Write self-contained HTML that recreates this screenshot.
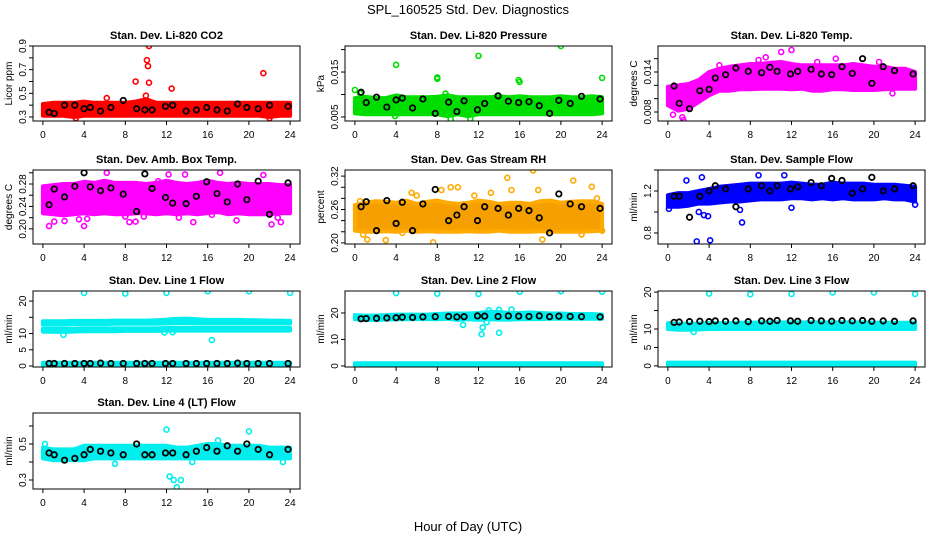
<!DOCTYPE html>
<html><head><meta charset="utf-8">
<style>
html,body{margin:0;padding:0;background:#fff;}
svg{display:block;font-family:"Liberation Sans",sans-serif;}
</style></head>
<body>
<svg id="chart" width="936" height="540" viewBox="0 0 936 540">
<text x="468" y="14" text-anchor="middle" font-size="13">SPL_160525  Std. Dev. Diagnostics</text>
<text x="468" y="531" text-anchor="middle" font-size="13">Hour of Day (UTC)</text>
</svg>
<script>
const xTicks = [0,4,8,12,16,20,24];
const bandHours = [0,1,2,3,4,5,6,7,8,9,10,11,12,13,14,15,16,17,18,19,20,21,22,23,24];
const blackHours = [0.6,1.1,2.1,3.1,4.0,4.6,5.6,6.6,7.8,9.1,9.9,10.6,11.9,12.6,13.9,14.9,15.9,16.9,17.9,18.9,19.8,20.9,22.0,23.8];

const co2Lo = [0.31,0.31,0.31,0.30,0.31,0.31,0.31,0.31,0.31,0.31,0.31,0.31,0.31,0.31,0.31,0.31,0.31,0.31,0.31,0.31,0.31,0.31,0.30,0.31,0.31];
const co2Hi = [0.41,0.42,0.42,0.42,0.43,0.42,0.42,0.42,0.42,0.43,0.45,0.42,0.42,0.42,0.42,0.42,0.42,0.42,0.42,0.42,0.42,0.42,0.42,0.42,0.42];
const co2Out = [[6.2,0.46],[9.0,0.60],[10.0,0.48],[10.1,0.78],[10.2,0.73],[10.3,0.90],[10.3,0.59],[12.5,0.54],[21.4,0.67],[3.2,0.29],[22.0,0.29]];
const co2Black = [0.34,0.33,0.40,0.40,0.37,0.38,0.35,0.38,0.44,0.37,0.36,0.36,0.39,0.40,0.35,0.36,0.38,0.36,0.35,0.41,0.38,0.37,0.40,0.39];

const presLo = [0.0058,0.0056,0.0056,0.0056,0.0056,0.0056,0.0056,0.0056,0.0056,0.0052,0.0056,0.0052,0.0056,0.0056,0.0056,0.0056,0.0056,0.0056,0.0056,0.0056,0.0056,0.0056,0.0056,0.0056,0.0058];
const presHi = [0.0092,0.0095,0.0092,0.0092,0.0098,0.0094,0.0094,0.0094,0.0095,0.0098,0.0094,0.0094,0.0094,0.0094,0.0096,0.0094,0.0096,0.0094,0.0094,0.0094,0.0096,0.0094,0.0094,0.0096,0.0094];
const presOut = [[0.0,0.0110],[0.5,0.0103],[4.0,0.0166],[8.0,0.0138],[8.0,0.0135],[12.0,0.0186],[15.9,0.0132],[16.0,0.0128],[20.0,0.0208],[24.0,0.0137],[9.3,0.0045],[3.9,0.0052],[11.2,0.0046],[8.8,0.0102]];
const presBlack = [0.0105,0.0082,0.0094,0.0072,0.0088,0.0092,0.0070,0.0090,0.0058,0.0083,0.0062,0.0086,0.0066,0.0080,0.0097,0.0085,0.0082,0.0084,0.0075,0.0058,0.0087,0.0080,0.0096,0.0090];

const tempLo = [0.0090,0.0082,0.0085,0.0095,0.0105,0.0112,0.0112,0.0114,0.0114,0.0115,0.0115,0.0115,0.0114,0.0115,0.0112,0.0112,0.0114,0.0114,0.0113,0.0113,0.0113,0.0114,0.0115,0.0115,0.0115];
const tempHi = [0.0118,0.0120,0.0122,0.0128,0.0140,0.0145,0.0148,0.0150,0.0152,0.0152,0.0154,0.0155,0.0152,0.0150,0.0150,0.0150,0.0150,0.0150,0.0152,0.0150,0.0148,0.0148,0.0145,0.0145,0.0140];
const tempOut = [[1.5,0.0068],[1.4,0.0072],[0.5,0.0076],[11.0,0.0170],[12.0,0.0173],[9.5,0.0162],[8.8,0.0158],[16.3,0.0160],[20.5,0.0155],[5.0,0.0150],[14.5,0.0155],[21.8,0.0108]];
const tempBlack = [0.0119,0.0093,0.0085,0.0112,0.0114,0.0131,0.0136,0.0146,0.0141,0.0139,0.0147,0.0141,0.0137,0.0141,0.0144,0.0137,0.0136,0.0148,0.0138,0.0160,0.0123,0.0148,0.0142,0.0137];

const ambLo = [0.228,0.226,0.224,0.226,0.228,0.226,0.228,0.226,0.226,0.228,0.228,0.226,0.228,0.226,0.228,0.226,0.228,0.230,0.226,0.228,0.226,0.226,0.226,0.228,0.228];
const ambHi = [0.276,0.278,0.280,0.280,0.284,0.282,0.286,0.282,0.282,0.282,0.280,0.282,0.286,0.282,0.280,0.282,0.286,0.282,0.280,0.282,0.280,0.280,0.280,0.278,0.278];
const ambOut = [[0.6,0.205],[1.1,0.213],[2.1,0.214],[3.5,0.217],[4.3,0.218],[6.2,0.300],[8.0,0.222],[8.4,0.212],[9.0,0.213],[9.8,0.222],[11.2,0.285],[12.2,0.297],[13.2,0.220],[13.8,0.297],[14.6,0.212],[16.4,0.225],[17.2,0.300],[18.8,0.215],[21.4,0.296],[22.2,0.208],[22.8,0.220],[23.1,0.212],[4.0,0.205]];
const ambBlack = [0.243,0.271,0.257,0.276,0.300,0.275,0.268,0.273,0.262,0.231,0.298,0.272,0.256,0.246,0.245,0.258,0.284,0.263,0.248,0.280,0.252,0.285,0.226,0.282];

const rhLo = [0.222,0.220,0.220,0.221,0.220,0.222,0.220,0.221,0.220,0.220,0.220,0.221,0.220,0.220,0.222,0.220,0.220,0.220,0.221,0.220,0.220,0.220,0.220,0.221,0.222];
const rhHi = [0.268,0.272,0.275,0.274,0.272,0.276,0.270,0.274,0.276,0.272,0.270,0.272,0.276,0.274,0.270,0.272,0.272,0.270,0.275,0.276,0.272,0.274,0.275,0.275,0.270];
const rhOut = [[0.5,0.275],[0.8,0.215],[1.2,0.206],[4.6,0.218],[5.5,0.29],[7.6,0.201],[8.4,0.295],[9.3,0.300],[10.0,0.300],[11.6,0.285],[13.2,0.290],[14.8,0.317],[15.2,0.295],[17.3,0.330],[17.8,0.295],[18.2,0.206],[21.2,0.312],[22.0,0.215],[23.0,0.301],[23.5,0.280],[24.0,0.222],[3.0,0.205],[6.0,0.285]];
const rhBlack = [0.265,0.274,0.222,0.276,0.235,0.273,0.222,0.270,0.296,0.240,0.250,0.265,0.240,0.265,0.262,0.250,0.262,0.258,0.245,0.218,0.288,0.270,0.265,0.262];

const flowLo = [1.05,1.05,1.06,1.08,1.08,1.09,1.10,1.10,1.11,1.12,1.12,1.12,1.13,1.13,1.12,1.13,1.12,1.13,1.12,1.12,1.12,1.13,1.12,1.12,1.10];
const flowHi = [1.16,1.18,1.18,1.20,1.22,1.24,1.25,1.26,1.27,1.27,1.27,1.27,1.28,1.27,1.26,1.26,1.28,1.27,1.27,1.27,1.26,1.26,1.26,1.25,1.24];
const flowOut = [[0.1,1.03],[2.8,0.72],[4.1,0.73],[7.2,0.90],[8.2,1.45],[3.0,1.00],[3.5,0.97],[3.9,0.96],[7.0,1.02],[8.8,1.35],[11.3,1.35],[12.0,1.04],[1.8,1.30],[3.3,1.33],[24.0,1.07]];
const flowBlack = [1.15,1.15,0.95,1.15,1.20,1.25,1.22,1.05,1.22,1.25,1.20,1.25,1.22,1.24,1.28,1.25,1.32,1.30,1.18,1.22,1.33,1.20,1.22,1.25];

const l1LoA = [10.6,10.5,10.5,10.6,10.7,10.7,10.7,10.7,10.8,10.8,10.8,10.8,10.9,10.9,10.9,10.9,10.9,10.9,10.9,10.9,10.9,10.9,10.9,10.9,10.9];
const l1HiA = [11.5,11.5,11.5,11.5,11.6,11.6,11.6,11.6,11.6,11.6,11.6,11.6,11.7,11.7,11.7,11.7,11.7,11.7,11.7,11.7,11.7,11.7,11.7,11.7,11.7];
const l1LoB = [12.8,12.8,12.8,12.9,12.9,12.9,12.9,13.0,13.0,13.0,13.0,13.0,13.1,13.2,13.2,13.1,13.1,13.1,13.1,13.1,13.1,13.1,13.1,13.1,13.1];
const l1HiB = [13.8,13.8,13.8,13.9,13.9,13.9,13.9,14.0,14.0,14.0,14.0,14.1,14.3,14.5,14.6,14.4,14.2,14.2,14.2,14.2,14.1,14.1,14.0,14.0,13.9];
const l1LoC = [0.2,0.2,0.2,0.2,0.2,0.2,0.2,0.2,0.2,0.2,0.2,0.2,0.2,0.2,0.2,0.2,0.2,0.2,0.2,0.2,0.2,0.2,0.2,0.2,0.2];
const l1HiC = [1.0,1.0,1.0,1.0,1.0,1.0,1.0,1.0,1.0,1.0,1.0,1.0,1.0,1.0,1.0,1.0,1.0,1.0,1.0,1.0,1.0,1.0,1.0,1.0,1.0];
const l1Out = [[4.0,22.5],[8.0,22.3],[12.0,22.5],[16.0,23.0],[20.0,23.0],[24.0,22.5],[16.4,8.0],[2.0,9.6],[12.6,10.4],[11.8,10.3]];
const l1Black = [0.8,0.8,0.8,0.8,0.8,0.8,0.9,0.8,0.8,0.8,0.8,0.8,0.8,0.8,0.8,0.8,0.8,0.8,0.8,0.9,0.8,0.8,0.8,0.8];

const l2LoA = [17.6,17.4,17.4,17.5,17.6,17.6,17.7,17.7,17.6,17.8,17.4,17.6,17.4,17.6,17.5,17.5,17.6,17.7,17.7,17.8,17.8,17.8,17.8,17.8,17.8];
const l2HiA = [19.2,19.0,19.0,19.2,19.4,19.4,19.4,19.4,19.6,19.8,19.8,19.8,20.0,20.4,20.4,20.0,20.0,20.2,20.0,19.8,19.8,19.6,19.6,19.6,19.4];
const l2LoC = [0.1,0.1,0.1,0.1,0.1,0.1,0.1,0.1,0.1,0.1,0.1,0.1,0.1,0.1,0.1,0.1,0.1,0.1,0.1,0.1,0.1,0.1,0.1,0.1,0.1];
const l2HiC = [1.0,1.0,1.0,1.0,1.0,1.0,1.0,1.0,1.0,1.0,1.0,1.0,1.0,1.0,1.0,1.0,1.0,1.0,1.0,1.0,1.0,1.0,1.0,1.0,1.0];
const l2Out = [[4.0,27.5],[8.0,27.3],[12.0,27.2],[16.0,28.0],[20.0,28.2],[24.0,28.0],[12.3,12.0],[12.4,14.5],[12.8,16.5],[14.0,12.5],[13.0,21.0],[14.0,21.2],[15.2,21.3],[10.5,15.5]];
const l2Black = [17.8,17.9,18.0,18.1,18.2,18.4,18.3,18.5,18.6,18.7,18.5,18.6,18.9,18.8,18.7,18.9,18.8,18.7,18.9,18.6,18.8,18.7,18.6,18.5];

const l3LoA = [10.0,9.8,9.8,9.9,10.0,10.0,10.0,10.0,10.0,10.0,10.0,10.0,10.0,10.0,10.0,10.0,10.0,10.0,10.0,10.0,10.0,10.0,10.0,10.0,10.0];
const l3HiA = [11.6,11.4,11.4,11.5,11.6,11.6,11.6,11.7,11.7,11.8,11.8,11.8,11.8,11.8,11.8,11.8,11.8,11.8,11.8,11.8,11.7,11.7,11.7,11.7,11.7];
const l3LoC = [0.1,0.1,0.1,0.1,0.1,0.1,0.1,0.1,0.1,0.1,0.1,0.1,0.1,0.1,0.1,0.1,0.1,0.1,0.1,0.1,0.1,0.1,0.1,0.1,0.1];
const l3HiC = [0.9,0.9,0.9,0.9,0.9,0.9,0.9,0.9,0.9,0.9,0.9,0.9,0.9,0.9,0.9,0.9,0.9,0.9,0.9,0.9,0.9,0.9,0.9,0.9,0.9];
const l3Out = [[4.0,19.6],[8.0,19.4],[12.0,19.5],[16.0,19.9],[20.0,19.9],[24.0,19.5],[2.5,9.2]];
const l3Black = [11.8,11.9,12.0,12.1,12.0,12.2,12.1,12.2,12.0,12.2,12.1,12.3,12.2,12.1,12.3,12.2,12.1,12.3,12.2,12.3,12.1,12.2,12.1,12.2];

const l4Lo = [0.42,0.41,0.41,0.41,0.41,0.42,0.42,0.42,0.42,0.42,0.42,0.42,0.42,0.42,0.42,0.42,0.42,0.42,0.42,0.42,0.42,0.42,0.42,0.42,0.42];
const l4Hi = [0.48,0.47,0.47,0.47,0.49,0.49,0.49,0.49,0.49,0.49,0.49,0.49,0.49,0.48,0.48,0.49,0.50,0.50,0.49,0.49,0.49,0.49,0.48,0.48,0.48];
const l4Out = [[4.0,0.73],[12.0,0.58],[12.3,0.32],[12.7,0.30],[13.0,0.26],[13.4,0.30],[20.0,0.57],[7.0,0.39],[14.5,0.40],[0.2,0.50],[17.0,0.52],[23.3,0.40]];
const l4Black = [0.45,0.44,0.41,0.42,0.44,0.47,0.46,0.45,0.44,0.50,0.44,0.44,0.45,0.45,0.44,0.46,0.48,0.46,0.49,0.46,0.50,0.47,0.44,0.47];

const panels = [
 {name:'co2',col:0,row:0,title:'Stan. Dev. Li-820 CO2',ylab:'Licor ppm',y0:0.266,y1:0.9,ticks:[0.3,0.4,0.5,0.6,0.7,0.8,0.9],labels:['0.3','','0.5','','0.7','','0.9'],color:'#ff0000',bands:[[co2Lo,co2Hi]],out:co2Out,black:co2Black},
 {name:'pressure',col:1,row:0,title:'Stan. Dev. Li-820 Pressure',ylab:'kPa',y0:0.0041,y1:0.0208,ticks:[0.005,0.010,0.015,0.020],labels:['0.005','','0.015',''],color:'#00dd00',bands:[[presLo,presHi]],out:presOut,black:presBlack},
 {name:'temp',col:2,row:0,title:'Stan. Dev. Li-820 Temp.',ylab:'degrees C',y0:0.00665,y1:0.0179,ticks:[0.008,0.010,0.012,0.014,0.016],labels:['0.008','','','0.014',''],color:'#ff00ff',bands:[[tempLo,tempHi]],out:tempOut,black:tempBlack},
 {name:'amb-box',col:0,row:1,title:'Stan. Dev. Amb. Box Temp.',ylab:'degrees C',y0:0.173,y1:0.305,ticks:[0.20,0.22,0.24,0.26,0.28,0.30],labels:['0.20','','0.24','','0.28',''],color:'#ff00ff',bands:[[ambLo,ambHi]],out:ambOut,black:ambBlack},
 {name:'gas-rh',col:1,row:1,title:'Stan. Dev. Gas Stream RH',ylab:'percent',y0:0.198,y1:0.331,ticks:[0.20,0.22,0.24,0.26,0.28,0.30,0.32],labels:['0.20','','','0.26','','','0.32'],color:'#ffaa00',bands:[[rhLo,rhHi]],out:rhOut,black:rhBlack},
 {name:'sample-flow',col:2,row:1,title:'Stan. Dev. Sample Flow',ylab:'ml/min',y0:0.695,y1:1.40,ticks:[0.8,1.0,1.2,1.4],labels:['0.8','','1.2',''],color:'#0000ff',bands:[[flowLo,flowHi]],out:flowOut,black:flowBlack},
 {name:'line1',col:0,row:2,title:'Stan. Dev. Line 1 Flow',ylab:'ml/min',y0:-0.3,y1:23.1,ticks:[0,5,10,15,20],labels:['0','5','10','','20'],color:'#00eeee',bands:[[l1LoA,l1HiA],[l1LoB,l1HiB],[l1LoC,l1HiC]],out:l1Out,black:l1Black},
 {name:'line2',col:1,row:2,title:'Stan. Dev. Line 2 Flow',ylab:'ml/min',y0:-0.4,y1:28.3,ticks:[0,10,20],labels:['0','10','20'],color:'#00eeee',bands:[[l2LoA,l2HiA],[l2LoC,l2HiC]],out:l2Out,black:l2Black},
 {name:'line3',col:2,row:2,title:'Stan. Dev. Line 3 Flow',ylab:'ml/min',y0:-0.3,y1:20.3,ticks:[0,5,10,15,20],labels:['0','5','10','','20'],color:'#00eeee',bands:[[l3LoA,l3HiA],[l3LoC,l3HiC]],out:l3Out,black:l3Black},
 {name:'line4',col:0,row:3,title:'Stan. Dev. Line 4 (LT) Flow',ylab:'ml/min',y0:0.25,y1:0.672,ticks:[0.3,0.4,0.5,0.6],labels:['0.3','','0.5',''],color:'#00eeee',bands:[[l4Lo,l4Hi]],out:l4Out,black:l4Black}
];

const NS='http://www.w3.org/2000/svg';
const svg=document.getElementById('chart');
const colLeft=[33,345,658], boxW=267;
const rowTop=[46,170,291,413], rowBot=[121,244,367,489];
function mk(tag,attrs,parent){const e=document.createElementNS(NS,tag);for(const k in attrs)e.setAttribute(k,attrs[k]);parent.appendChild(e);return e;}

panels.forEach(p=>{
  const L=colLeft[p.col], R=L+boxW, T=rowTop[p.row], B=rowBot[p.row];
  const xs=v=>L+(v+0.96)/25.92*boxW;
  const ys=v=>B-(v-p.y0)/(p.y1-p.y0)*(B-T);
  const g=mk('g',{},svg);
  
  
  const clip=mk('clipPath',{id:'clip-'+p.name},g);
  mk('rect',{x:L,y:T,width:boxW,height:B-T},clip);
  const plot=mk('g',{'clip-path':'url(#clip-'+p.name+')'},g);
  
  
  p.bands.forEach((b,bi)=>{
    let d='';
    bandHours.forEach((h,i)=>{d+=(i?'L':'M')+xs(h).toFixed(1)+','+ys(b[1][i]).toFixed(1);});
    for(let i=bandHours.length-1;i>=0;i--){d+='L'+xs(bandHours[i]).toFixed(1)+','+ys(b[0][i]).toFixed(1);}
    d+='Z';
    const path=mk('path',{d:d,fill:p.color,stroke:p.color,'stroke-width':4,'stroke-linejoin':'round'},plot);
    
    
    if(p.name==='gas-rh'){path.setAttribute('fill','#f5a000');}
  });
  p.out.forEach(o=>{
    const c=mk('circle',{cx:xs(o[0]),cy:ys(o[1]),r:2.5,fill:'none',stroke:p.color,'stroke-width':1.6},plot);
    
    
  });
  p.black.forEach((v,i)=>{
    const c=mk('circle',{cx:xs(blackHours[i]),cy:ys(v),r:2.7,fill:'none',stroke:'#000','stroke-width':1.8},plot);
    
    
  });
  const box=mk('rect',{x:L,y:T,width:boxW,height:B-T,fill:'none',stroke:'#000','stroke-width':1},g);
  
  
  const t=mk('text',{x:(L+R)/2,y:T-7,'text-anchor':'middle','font-size':11,'font-weight':'bold'},g);
  t.textContent=p.title;
  
  
  xTicks.forEach(v=>{
    const x=xs(v);
    const tk=mk('line',{x1:x,x2:x,y1:B,y2:B+4,stroke:'#000'},g);
    
    
    const tl=mk('text',{x:x,y:B+17,'text-anchor':'middle','font-size':10},g);
    tl.textContent=v;
    
    
  });
  p.ticks.forEach((v,i)=>{
    const y=ys(v);
    const tk=mk('line',{x1:L-4,x2:L,y1:y,y2:y,stroke:'#000'},g);
    
    
    if(p.labels[i]){
      const tl=mk('text',{x:0,y:0,'text-anchor':'middle','font-size':10,transform:'translate('+(L-7)+','+y+') rotate(-90)'},g);
      tl.textContent=p.labels[i];
      
      
    }
  });
  const yl=mk('text',{x:0,y:0,'text-anchor':'middle','font-size':10,transform:'translate('+(L-21)+','+((T+B)/2)+') rotate(-90)'},g);
  yl.textContent=p.ylab;
  
  
});
</script>
</body></html>
